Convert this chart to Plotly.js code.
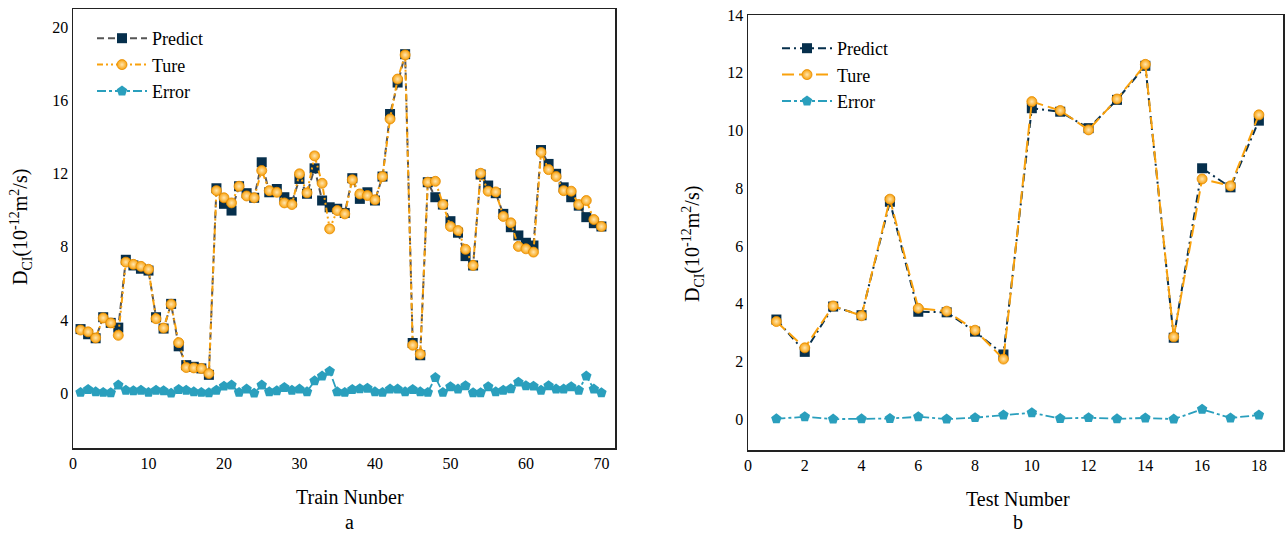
<!DOCTYPE html>
<html>
<head>
<meta charset="utf-8">
<script src="https://cdn.plot.ly/plotly-3.0.1.min.js"></script>
<style>html,body{margin:0;padding:0;background:#fff}#chart{width:1285px;height:533px}</style>
</head>
<body>
<div id="chart"></div>
<script>
// ---- Data: panel a (training set) ----
const trainNo = Array.from({length: 70}, (_, i) => i + 1);
const trainPredict = [3.5,3.22,3.0,4.15,3.84,3.58,7.29,6.98,6.8,6.7,
  4.15,3.53,4.88,2.56,1.53,1.44,1.35,1.0,11.2,10.35,
  9.98,11.31,10.93,10.68,12.62,10.98,11.16,10.71,10.44,11.71,
  10.9,12.29,10.53,10.16,10.08,9.85,11.75,10.62,10.98,10.53,
  11.84,15.26,16.98,18.53,2.74,2.07,11.53,10.71,10.31,9.4,
  8.77,7.49,6.98,11.95,11.35,10.93,9.8,9.07,8.62,8.22,
  8.07,13.29,12.53,11.99,11.25,10.71,10.25,9.62,9.29,9.11];
const trainTrue = [3.45,3.35,3.02,4.11,3.84,3.16,7.16,7.04,6.93,6.77,
  4.07,3.56,4.86,2.76,1.4,1.38,1.35,1.07,11.07,10.68,
  10.4,11.31,10.78,10.68,12.17,11.07,10.98,10.4,10.31,11.99,
  10.95,12.97,11.47,8.98,9.98,9.8,11.66,10.89,10.8,10.57,
  11.84,14.99,17.17,18.49,2.62,2.13,11.53,11.58,10.31,9.11,
  8.89,7.86,6.98,12.02,11.04,11.0,9.66,9.31,8.02,7.89,
  7.71,13.16,12.22,11.84,11.07,11.04,10.31,10.53,9.49,9.11];
const trainError = [0.04,0.2,0.07,0.04,0.02,0.44,0.16,0.13,0.16,0.04,
  0.16,0.13,0.0,0.2,0.16,0.07,0.04,0.02,0.16,0.38,
  0.44,0.04,0.22,0.0,0.44,0.07,0.13,0.31,0.16,0.22,
  0.07,0.67,0.93,1.2,0.07,0.04,0.2,0.24,0.27,0.07,
  0.04,0.22,0.22,0.07,0.2,0.07,0.04,0.85,0.04,0.35,
  0.22,0.4,0.02,0.02,0.35,0.07,0.16,0.24,0.6,0.4,
  0.38,0.16,0.4,0.22,0.22,0.35,0.16,0.93,0.22,0.02];

// ---- Data: panel b (test set) ----
const testNo = Array.from({length: 18}, (_, i) => i + 1);
const testPredict = [3.45,2.33,3.9,3.6,7.53,3.72,3.7,3.03,2.24,10.77,10.65,10.08,11.06,12.24,2.82,8.69,8.03,10.34];
const testTrue = [3.38,2.47,3.92,3.58,7.62,3.84,3.74,3.08,2.08,11.0,10.69,10.02,11.09,12.29,2.85,8.32,8.08,10.54];
const testError = [0.01,0.08,0.0,0.01,0.02,0.08,0.0,0.05,0.14,0.22,0.02,0.05,0.01,0.04,0.0,0.34,0.04,0.14];

// ---- Tick labels ----
const trainTicks = [0,10,20,30,40,50,60,70];
const trainYTicks = [0,4,8,12,16,20];
const testTicks = [0,2,4,6,8,10,12,14,16,18];
const testYTicks = [0,2,4,6,8,10,12,14];

const NAVY = '#062f4c', ORANGE = '#f9a10c', TEAL = '#2a9fbd', GREY = '#555555';
const serif = 'Liberation Serif, Times New Roman, serif';

function predict(x, y, xa, ya, lg, lineColor, dash) {
  return {x, y, xaxis: xa, yaxis: ya, legend: lg, name: 'Predict', type: 'scatter', mode: 'lines+markers',
    line: {color: lineColor, width: 2, dash},
    marker: {symbol: 'square', size: 10, color: NAVY, line: {width: 0}}};
}
function ture(x, y, xa, ya, lg, dash) {
  return {x, y, xaxis: xa, yaxis: ya, legend: lg, name: 'Ture', type: 'scatter', mode: 'lines+markers',
    line: {color: ORANGE, width: 2, dash},
    marker: {symbol: 'circle', size: 10, color: ORANGE, line: {color: '#e58c00', width: 0.8},
             gradient: {type: 'radial', color: '#ffe6b0'}}};
}
function err(x, y, xa, ya, lg) {
  return {x, y, xaxis: xa, yaxis: ya, legend: lg, name: 'Error', type: 'scatter', mode: 'lines+markers',
    line: {color: TEAL, width: 1.8, dash: 'dashdot'},
    marker: {symbol: 'pentagon', size: 11, color: TEAL, line: {width: 0}}};
}

const data = [
  predict(trainNo, trainPredict, 'x', 'y', 'legend', GREY, '7px,4px'),
  ture(trainNo, trainTrue, 'x', 'y', 'legend', '6px,3px,2px,3px,2px,3px'),
  err(trainNo, trainError, 'x', 'y', 'legend'),
  predict(testNo, testPredict, 'x2', 'y2', 'legend2', NAVY, '8px,4px,2px,4px'),
  ture(testNo, testTrue, 'x2', 'y2', 'legend2', '12px,5px'),
  err(testNo, testError, 'x2', 'y2', 'legend2')
];

const axisBase = {showline: true, mirror: true, linecolor: '#222', linewidth: 1.5, showgrid: false,
  zeroline: false, ticks: '', tickfont: {family: serif, size: 16, color: '#000'}};

const legendBase = {font: {family: serif, size: 18, color: '#000'}, bgcolor: 'rgba(0,0,0,0)',
  xanchor: 'left', yanchor: 'top', tracegroupgap: 0, itemwidth: 50};

const titleFont = {family: serif, size: 20, color: '#000'};
function ann(text, px, py, angle) {
  return {text, x: px/1285, y: 1-py/533, xref: 'paper', yref: 'paper', showarrow: false,
    xanchor: 'center', yanchor: 'middle', textangle: angle || 0, font: titleFont};
}

const layout = {
  width: 1285, height: 533,
  margin: {l: 0, r: 0, t: 0, b: 0},
  paper_bgcolor: '#fff', plot_bgcolor: '#fff',
  xaxis: Object.assign({}, axisBase, {domain: [73/1285, 615/1285], range: [0, 71.8], tickvals: trainTicks, anchor: 'y'}),
  yaxis: Object.assign({}, axisBase, {domain: [1-448/533, 1-9/533], range: [-3, 21], tickvals: trainYTicks, anchor: 'x'}),
  xaxis2: Object.assign({}, axisBase, {domain: [748/1285, 1283/1285], range: [0, 18.85], tickvals: testTicks, anchor: 'y2'}),
  yaxis2: Object.assign({}, axisBase, {domain: [1-450/533, 1-15/533], range: [-1.07, 14], tickvals: testYTicks, anchor: 'x2'}),
  legend: Object.assign({}, legendBase, {x: 92/1285, y: 1-20/533}),
  legend2: Object.assign({}, legendBase, {x: 777/1285, y: 1-30/533}),
  annotations: [
    ann('Train Nunber', 350, 497),
    ann('a', 350, 522),
    ann('Test Number', 1018, 499),
    ann('b', 1018, 522),
    ann('D<sub>CI</sub>(10<sup>-12</sup>m<sup>2</sup>/s)', 21, 227, -90),
    ann('D<sub>CI</sub>(10<sup>-12</sup>m<sup>2</sup>/s)', 693, 244, -90)
  ]
};

Plotly.newPlot('chart', data, layout, {displayModeBar: false, staticPlot: true});
</script>
</body>
</html>
